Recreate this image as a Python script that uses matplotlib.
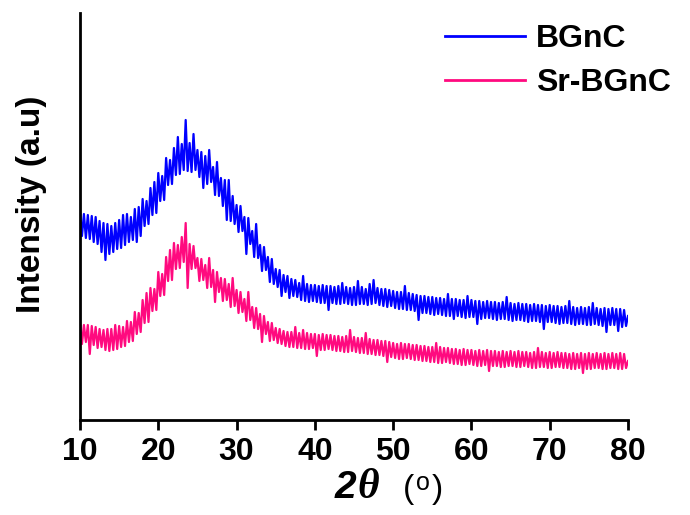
import numpy as np
import matplotlib
matplotlib.use("Agg")
import matplotlib.pyplot as plt

# 2theta grid, 0.25 deg steps
two_theta = np.arange(10, 80.001, 0.25)

# BGnC intensity (a.u.), 4 values per degree
bgnc = [
    209, 184, 206, 182,  205, 181, 204, 178,  203, 176, 199, 168,  197, 160, 196, 166,
    194, 168, 197, 171,  200, 172, 205, 175,  206, 178, 203, 180,  211, 178, 213, 184,
    221, 194, 219, 196,  232, 205, 238, 207,  247, 219, 244, 220,  262, 235, 260, 236,
    272, 245, 283, 246,  276, 250, 300, 249,  277, 248, 286, 250,  270, 243, 268, 232,
    264, 236, 270, 238,  253, 225, 258, 224,  242, 214, 240, 200,  240, 199, 224, 196,
    215, 188, 214, 189,  203, 166, 202, 176,  189, 163, 196, 162,  175, 149, 173, 150,
    163, 138, 161, 136,  151, 133, 150, 124,  145, 128, 144, 122,  141, 124, 140, 123,
    137, 120, 144, 119,  136, 118, 135, 119,  135, 118, 134, 117,  135, 117, 134, 110,
    134, 117, 133, 116,  134, 116, 137, 117,  133, 116, 132, 115,  133, 115, 139, 116,
    133, 116, 131, 115,  136, 116, 140, 117,  132, 115, 131, 114,  131, 113, 130, 114,
    129, 112, 128, 111,  128, 111, 134, 110,  127, 110, 126, 109,  125, 100, 124, 107,
    124, 107, 123, 106,  123, 105, 122, 106,  122, 105, 121, 104,  126, 104, 121, 101,
    121, 104, 120, 103,  120, 102, 124, 103,  120, 103, 119, 96,   119, 101, 118, 102,
    119, 102, 118, 101,  118, 100, 117, 101,  118, 101, 123, 100,  117, 99, 116, 100,
    117, 100, 116, 99,   116, 98, 115, 99,    116, 99, 115, 98,    115, 91, 114, 98,
    115, 98, 114, 97,    114, 96, 113, 97,    114, 97, 119, 96,    113, 95, 112, 96,
    113, 96, 112, 95,    113, 95, 117, 96,    112, 95, 111, 94,    112, 88, 111, 95,
    112, 95, 111, 89,    111, 93, 110, 94,    104,
]

# Sr-BGnC intensity (a.u.)
sr_bgnc = [
    97, 76, 95, 78,    95, 66, 94, 75,    93, 72, 91, 73,    90, 70, 91, 69,
    91, 70, 95, 71,    94, 73, 93, 74,    99, 78, 98, 79,    108, 86, 107, 88,
    120, 97, 127, 98,  132, 109, 131, 110,  148, 124, 146, 125,  163, 139, 170, 140,
    177, 151, 175, 152,  183, 158, 197, 132,  176, 151, 174, 152,  162, 139, 161, 140,
    155, 132, 162, 133,  150, 118, 148, 128,  142, 119, 141, 120,  136, 113, 142, 114,
    130, 107, 128, 108,  121, 99, 128, 100,  113, 92, 112, 91,    106, 78, 104, 86,
    98, 79, 97, 80,    92, 77, 91, 76,    89, 74, 88, 73,    88, 73, 93, 72,
    87, 72, 90, 71,    87, 71, 86, 72,    86, 64, 85, 70,    86, 70, 85, 71,
    85, 70, 84, 69,    84, 69, 83, 68,    84, 68, 90, 69,    83, 68, 82, 67,
    82, 67, 87, 66,    81, 66, 80, 65,    80, 65, 79, 64,    79, 58, 78, 63,
    77, 62, 76, 61,    77, 61, 76, 62,    76, 61, 75, 60,    75, 60, 74, 59,
    74, 59, 73, 58,    73, 58, 77, 57,    73, 57, 72, 58,    72, 57, 71, 56,
    71, 56, 70, 55,    71, 55, 70, 56,    70, 55, 69, 54,    70, 54, 69, 55,
    70, 49, 69, 54,    69, 54, 68, 53,    69, 53, 68, 54,    69, 54, 68, 53,
    69, 53, 68, 54,    68, 53, 67, 52,    68, 52, 72, 53,    68, 53, 67, 52,
    68, 52, 67, 53,    68, 53, 67, 52,    67, 52, 66, 51,    67, 51, 66, 52,
    67, 47, 66, 51,    67, 51, 66, 52,    67, 52, 66, 51,    67, 51, 66, 52,
    67, 52, 66, 51,    67, 51, 66, 52,    59,
]

xticks = [10, 20, 30, 40, 50, 60, 70, 80]

plt.rcParams['font.family'] = ['Liberation Sans', 'DejaVu Sans']

W, H = 690, 515
fig = plt.figure(figsize=(W / 100, H / 100), dpi=100)
ax = fig.add_axes([80 / W, 1 - 420 / H, 548 / W, 407 / H])

ax.plot(two_theta, bgnc, color="#0000ff", lw=1.6, label="BGnC")
ax.plot(two_theta, sr_bgnc, color="#ff0a7f", lw=1.6, label="Sr-BGnC")

ax.set_xlim(10, 80)
ax.set_ylim(0, 407)
ax.set_xticks(xticks)
ax.set_xticklabels([str(t) for t in xticks], fontsize=23, fontweight="bold")
ax.set_yticks([])

for s in ["top", "right"]:
    ax.spines[s].set_visible(False)
for s in ["left", "bottom"]:
    ax.spines[s].set_linewidth(2)
ax.tick_params(axis="x", length=7, width=2, pad=5)

fig.text(32 / W, 1 - 204 / H, "Intensity (a.u)", rotation=90, ha="center",
         va="center", fontsize=24, fontweight="bold")

# x label: bold italic 2theta + (degree)
base = 1 - 498 / H
fig.text(335 / W, base, "2", ha="left", va="baseline", fontsize=28,
         fontweight="bold", style="italic")
fig.text(357 / W, base, "\u03b8", ha="left", va="baseline", fontsize=30,
         fontweight="bold", style="italic", family="Liberation Serif")
fig.text(403 / W, base, "(", ha="left", va="baseline", fontsize=24)
fig.text(416 / W, 1 - 490 / H, "o", ha="left", va="baseline", fontsize=18)
fig.text(432 / W, base, ")", ha="left", va="baseline", fontsize=24)

leg = ax.legend(loc="upper left", bbox_to_anchor=(352 / 548, 1.005), frameon=False,
                handlelength=2.5, handletextpad=0.35, labelspacing=0.45,
                borderaxespad=0, prop={"size": 23, "weight": "bold"})
for line in leg.get_lines():
    line.set_linewidth(2)

fig.savefig("out.png", dpi=100)
